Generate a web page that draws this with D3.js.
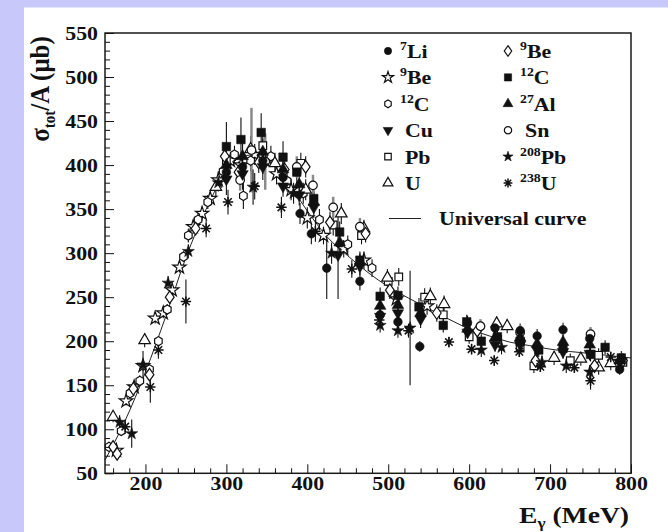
<!DOCTYPE html>
<html>
<head>
<meta charset="utf-8">
<script src="https://cdn.jsdelivr.net/npm/d3@7"></script>
<style>
  html, body { margin: 0; padding: 0; background: #c8c8fa; }
  svg { display: block; }
</style>
</head>
<body>
<svg id="chart" width="668" height="532"></svg>
<script>
// Total photoabsorption cross section per nucleon, sigma_tot/A (microbarn), vs photon energy (MeV).
// Each point: [energy, sigma, error]
const li7 = [[300,392,15],[320,398,15],[345,405,15],[370,386,12],[391,345,12],[405,322,12],[424,283,35],[465,268,10],[490,230,8],[512,222,8],[539,194,6],[598,221,8],[632,215,8],[663,212,8],[684,206,8],[716,213,8],[749,203,8],[786,168,6]];
const be9a = [[164,76,5],[176,132,5],[186,148,6],[197,172,6],[212,226,6],[222,232,6],[233,258,6],[242,284,6],[259,330,8],[270,345,8],[280,362,8],[290,383,10],[305,405,10],[318,400,10],[335,412,12],[347,406,12],[362,390,12],[380,372,12],[400,340,12],[420,320,10],[445,305,10],[470,292,10],[510,248,10],[548,240,10]];
const c12a = [[155,80,5],[170,98,5],[181,141,6],[193,155,6],[205,168,6],[216,200,6],[227,236,6],[247,296,6],[253,320,8],[265,338,8],[277,358,8],[296,393,10],[310,412,10],[321,365,15],[330,405,12],[355,410,12],[375,382,12],[395,368,12],[415,338,12],[450,310,10],[480,283,10]];
const cu = [[300,384,18],[320,390,18],[345,398,15],[370,376,12],[390,366,12],[408,352,12],[438,298,50],[465,285,10],[490,228,10],[512,232,10],[540,225,10],[598,210,8],[632,196,8],[663,196,8],[684,190,8],[716,188,8],[749,186,8],[786,176,8]];
const pb = [[300,405,15],[345,422,15],[392,402,12],[432,332,12],[467,320,10],[500,268,10],[513,273,10],[545,250,10],[568,230,8],[600,205,8],[635,202,8],[663,194,8],[680,172,8],[725,178,8],[760,184,8],[790,176,8]];
const u = [[160,114,6],[199,201,8],[287,375,10],[330,418,15],[360,402,12],[398,372,12],[442,345,12],[470,328,10],[499,272,10],[552,251,10],[569,242,10],[634,220,8],[647,217,8],[705,181,8],[738,180,8],[760,170,8],[775,175,8]];
const be9b = [[160,80,5],[165,72,5],[185,146,6],[205,162,6],[230,250,6],[262,328,8],[298,410,12],[315,392,12],[340,403,12],[372,395,12],[398,398,12],[428,335,12],[472,322,10],[502,258,10],[560,232,10],[610,212,8],[682,178,8],[755,172,8],[790,178,8]];
const c12b = [[300,421,28],[318,429,25],[343,437,22],[370,409,18],[387,392,15],[408,362,15],[440,324,12],[465,292,10],[490,251,10],[512,252,10],[538,239,10],[568,218,8],[597,222,8],[615,200,8],[635,205,8],[663,200,8],[686,190,8],[716,192,8],[750,185,8],[768,193,8],[788,181,8]];
const al27 = [[300,400,15],[320,410,15],[345,415,15],[370,395,12],[390,378,12],[408,358,12],[440,312,12],[465,290,10],[490,240,10],[512,241,10],[540,232,10],[598,214,8],[632,204,8],[663,204,8],[684,197,8],[716,199,8],[749,196,8],[786,178,8]];
const sn = [[317,383,12],[331,417,48],[348,404,32],[387,398,12],[407,377,12],[432,352,12],[465,330,10],[614,217,8],[663,210,8],[750,208,8]];
const pb208 = [[168,108,8],[183,95,16],[197,173,16],[228,266,8],[253,302,8],[290,380,10],[333,375,20],[383,368,12],[430,300,12],[490,218,8],[512,212,8],[527,215,65],[615,190,8],[640,193,8],[690,176,8],[720,172,8],[749,165,8]];
const u238 = [[175,103,8],[206,148,18],[216,190,10],[250,245,25],[275,328,10],[302,358,14],[335,376,15],[368,352,12],[410,325,12],[455,282,10],[489,224,8],[525,212,8],[575,199,6],[603,191,6],[631,178,6],[662,188,6],[688,171,6],[730,170,6],[750,155,10],[775,182,6]];

// Universal curve
const curveE     = [150, 175, 200, 225, 250, 275, 300, 320, 340, 360, 380, 400, 425, 450, 475, 500, 525, 550, 575, 600, 625, 650, 675, 700, 750, 800];
const curveSigma = [ 65, 110, 165, 228, 295, 350, 393, 410, 412, 398, 375, 348, 318, 297, 278, 262, 249, 237, 225, 214, 206, 199, 195, 191, 186, 181];

// Axis ticks
const xTickLabels = [200, 300, 400, 500, 600, 700, 800];
const yTickLabels = [50, 100, 150, 200, 250, 300, 350, 400, 450, 500, 550];

const W = 668, H = 532;
const SX = 1.15; // horizontal glyph stretch
const FONT = "Liberation Serif";
const svg = d3.select("#chart");

function boldSerif(sel, size) {
  return sel.style("font-family", FONT).style("font-weight", "700")
    .style("font-size", size + "px").style("fill", "#111");
}

svg.append("rect").attr("width", W).attr("height", H).attr("fill", "#c8c8fa");
svg.append("rect").attr("x", 24).attr("y", 7.5).attr("width", W - 24).attr("height", H - 7.5).attr("fill", "#ffffff");

const x = d3.scaleLinear().domain([150, 800]).range([105, 631]);
const y = d3.scaleLinear().domain([50, 550]).range([473.3, 33]);

// custom symbols
const symHexagon = {
  draw(ctx, size) {
    const r = Math.sqrt(size / 2.6);
    for (let i = 0; i < 6; i++) {
      const a = -Math.PI / 2 + i * Math.PI / 3;
      const px = r * Math.cos(a) * 0.95, py = r * Math.sin(a);
      if (i === 0) ctx.moveTo(px, py); else ctx.lineTo(px, py);
    }
    ctx.closePath();
  }
};
const symTriDown = {
  draw(ctx, size) {
    const s = Math.sqrt(size / 0.433);
    const h = s * Math.sqrt(3) / 2;
    ctx.moveTo(0, h * 2 / 3);
    ctx.lineTo(s / 2, -h / 3);
    ctx.lineTo(-s / 2, -h / 3);
    ctx.closePath();
  }
};
const symThinDiamond = {
  draw(ctx, size) {
    const r = Math.sqrt(size / 1.4);
    ctx.moveTo(0, -r);
    ctx.lineTo(r * 0.7, 0);
    ctx.lineTo(0, r);
    ctx.lineTo(-r * 0.7, 0);
    ctx.closePath();
  }
};
// eight-armed asterisk
const symStarBurst = {
  draw(ctx, size) {
    const r = Math.sqrt(size) * 0.6;
    const q = r * 0.72;
    ctx.moveTo(-r, 0); ctx.lineTo(r, 0);
    ctx.moveTo(0, -r); ctx.lineTo(0, r);
    ctx.moveTo(-q, -q); ctx.lineTo(q, q);
    ctx.moveTo(-q, q); ctx.lineTo(q, -q);
  }
};

const series = [
  { data: li7,   sup: "7",   main: "Li", type: d3.symbolCircle,   size: 58, filled: true,  col: 0, row: 0 },
  { data: be9a,  sup: "9",   main: "Be", type: d3.symbolStar,     size: 55, filled: false, col: 0, row: 1 },
  { data: c12a,  sup: "12",  main: "C",  type: symHexagon,        size: 55, filled: false, col: 0, row: 2 },
  { data: cu,    sup: "",    main: "Cu", type: symTriDown,        size: 55, filled: true,  col: 0, row: 3 },
  { data: pb,    sup: "",    main: "Pb", type: d3.symbolSquare,   size: 58, filled: false, col: 0, row: 4 },
  { data: u,     sup: "",    main: "U",  type: d3.symbolTriangle, size: 58, filled: false, col: 0, row: 5 },
  { data: be9b,  sup: "9",   main: "Be", type: symThinDiamond,    size: 55, filled: false, col: 1, row: 0 },
  { data: c12b,  sup: "12",  main: "C",  type: d3.symbolSquare,   size: 72, filled: true,  col: 1, row: 1 },
  { data: al27,  sup: "27",  main: "Al", type: d3.symbolTriangle, size: 58, filled: true,  col: 1, row: 2 },
  { data: sn,    sup: "",    main: "Sn", type: d3.symbolCircle,   size: 58, filled: false, col: 1, row: 3, barColor: "#8a8a8a", barWidth: 2.5 },
  { data: pb208, sup: "208", main: "Pb", type: d3.symbolStar,     size: 45, filled: true,  col: 1, row: 4 },
  { data: u238,  sup: "238", main: "U",  type: symStarBurst,      size: 75, filled: false, col: 1, row: 5, strokeOnly: true }
];

const plot = svg.append("g");

// error bars
series.forEach(s => {
  plot.append("g").selectAll("line").data(s.data).join("line")
    .attr("x1", d => x(d[0])).attr("x2", d => x(d[0]))
    .attr("y1", d => y(d[1] - d[2])).attr("y2", d => y(d[1] + d[2]))
    .attr("stroke", s.barColor || "#111").attr("stroke-width", s.barWidth || 1.1);
});

// universal curve
const curvePts = curveE.map((e, i) => [e, curveSigma[i]]);
plot.append("path").datum(curvePts)
  .attr("d", d3.line().x(d => x(d[0])).y(d => y(d[1])).curve(d3.curveMonotoneX))
  .attr("fill", "none").attr("stroke", "#222").attr("stroke-width", 1);

function styleMarker(sel, s) {
  if (s.strokeOnly) sel.attr("fill", "none").attr("stroke", "#111").attr("stroke-width", 1.5);
  else if (s.filled) sel.attr("fill", "#111").attr("stroke", "#111").attr("stroke-width", 0.6);
  else sel.attr("fill", "#fff").attr("stroke", "#111").attr("stroke-width", 1.2);
}

// open markers first, filled on top
const order = series.filter(s => !s.filled).concat(series.filter(s => s.filled));
order.forEach(s => {
  const sym = d3.symbol(s.type, s.size);
  const m = plot.append("g").selectAll("path").data(s.data).join("path")
    .attr("d", sym)
    .attr("transform", d => `translate(${x(d[0])},${y(d[1])})`);
  styleMarker(m, s);
});

// frame
svg.append("rect").attr("x", 105).attr("y", 33).attr("width", 631 - 105).attr("height", 473.3 - 33)
  .attr("fill", "none").attr("stroke", "#1a1a1a").attr("stroke-width", 1.5);

// axes
const xMinor = d3.range(160, 801, 20).filter(v => v % 100 !== 0);
const yMinor = d3.range(60, 550, 10).filter(v => v % 50 !== 0);

function styleAxisText(sel, tf, anchor) {
  sel.attr("x", null).attr("y", null).attr("dy", null)
    .attr("transform", tf)
    .attr("text-anchor", anchor);
  boldSerif(sel, 19);
}

const gx = svg.append("g").attr("transform", "translate(0,473.3)");
gx.append("g").call(d3.axisBottom(x).tickValues(xMinor).tickSize(-5).tickSizeOuter(0).tickFormat(""));
gx.append("g").call(d3.axisBottom(x).tickValues(xTickLabels).tickSize(-9).tickSizeOuter(0));
gx.selectAll("g").attr("font-family", null);
gx.selectAll(".domain").remove();
gx.selectAll(".tick line").attr("stroke", "#111");
styleAxisText(gx.selectAll(".tick text"), `translate(0,17) scale(${SX},1)`, "middle");

const gy = svg.append("g").attr("transform", "translate(105,0)");
gy.append("g").call(d3.axisLeft(y).tickValues(yMinor).tickSize(-5).tickSizeOuter(0).tickFormat(""));
gy.append("g").call(d3.axisLeft(y).tickValues(yTickLabels).tickSize(-9).tickSizeOuter(0));
gy.selectAll("g").attr("font-family", null);
gy.selectAll(".domain").remove();
gy.selectAll(".tick line").attr("stroke", "#111");
styleAxisText(gy.selectAll(".tick text"), `translate(-7,6) scale(${SX},1)`, "end");

// axis titles
const yt = boldSerif(svg.append("text"), 25)
  .attr("transform", "translate(49,89) rotate(-90) scale(1,1.12)")
  .attr("text-anchor", "middle");
yt.append("tspan").text("σ");
boldSerif(yt.append("tspan").attr("dy", 5), 15).text("tot");
yt.append("tspan").attr("dy", -5).text("/A (μb)");

const xt = boldSerif(svg.append("text"), 24)
  .attr("transform", `translate(629,523) scale(${SX},1)`)
  .attr("text-anchor", "end");
xt.append("tspan").text("E");
boldSerif(xt.append("tspan").attr("dy", 5), 15).text("γ");
xt.append("tspan").attr("dy", -5).text(" (MeV)");

// legend
const legCols = [388, 508];
const legRow = i => 51 + i * 26.4;
const leg = svg.append("g");
series.forEach(s => {
  const mx = legCols[s.col], my = legRow(s.row);
  const mk = leg.append("path")
    .attr("d", d3.symbol(s.type, s.size * 0.72))
    .attr("transform", `translate(${mx},${my})`);
  styleMarker(mk, s);
  const tx = mx + (s.sup ? 12 : 17);
  const t = boldSerif(leg.append("text"), 19)
    .attr("transform", `translate(${tx},${my + 7}) scale(${SX},1)`);
  if (s.sup) {
    boldSerif(t.append("tspan").attr("dy", -8), 12).text(s.sup);
    t.append("tspan").attr("dy", 8).text(s.main);
  } else {
    t.append("tspan").text(s.main);
  }
});
leg.append("line").attr("x1", 389).attr("x2", 421).attr("y1", 218.5).attr("y2", 218.5)
  .attr("stroke", "#222").attr("stroke-width", 1);
boldSerif(leg.append("text"), 19)
  .attr("transform", `translate(439,225) scale(${SX},1)`)
  .text("Universal curve");
</script>
</body>
</html>
